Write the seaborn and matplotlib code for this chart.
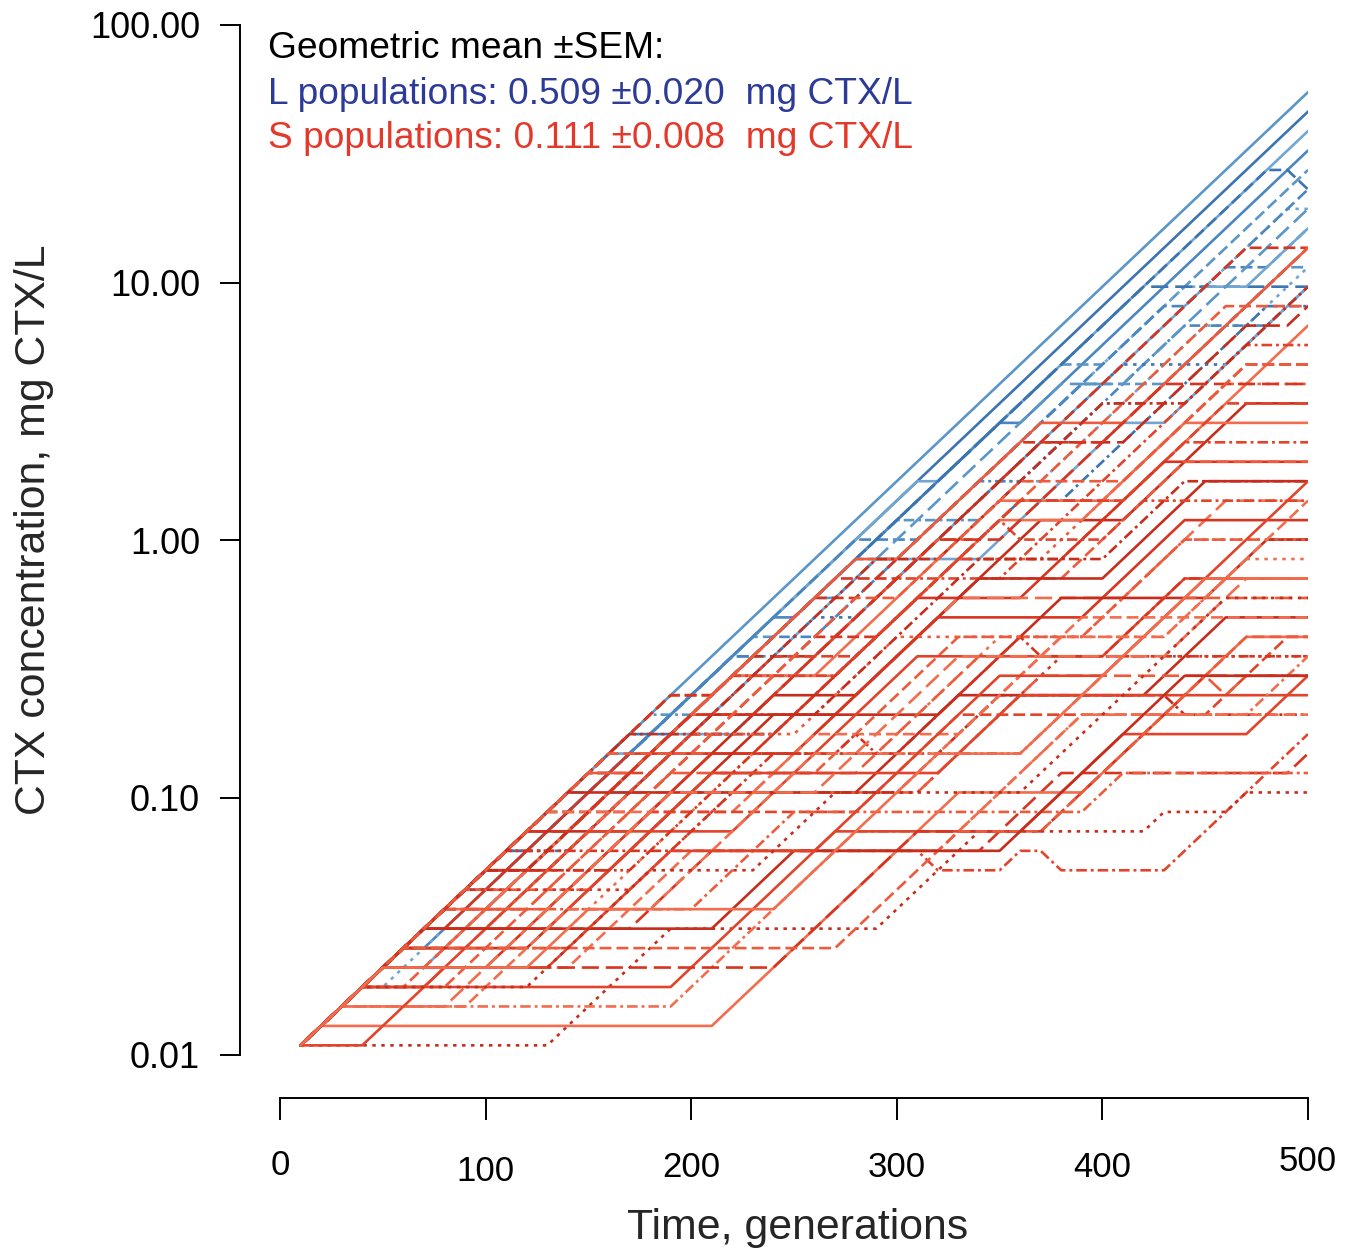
import matplotlib
matplotlib.use("Agg")
import matplotlib.pyplot as plt
import matplotlib.transforms as mtransforms
from matplotlib.ticker import NullLocator
import numpy as np
import pandas as pd
import seaborn as sns

# Dose is read at every transfer (every 10 generations)
GENERATIONS = list(range(10, 501, 10))
START_DOSE = 0.0109   # mg CTX/L at the first transfer
DOSE_STEP = 1.19      # fold change for each raise / lowering of the dose

# Dose history of each population, run-length coded per transfer:
# u = dose raised one step, h = dose held, d = dose lowered one step
L_POPULATIONS = [
    "u49",
    "u8 h1 u40",
    "u15 h1 u14 h1 u18",
    "u5 h1 u17 h1 u10 h1 u14",
    "u12 h1 u9 h1 u14 h2 u10",
    "u10 h1 u10 h1 u25 h1 d1",
    "u3 h1 u7 h1 u15 h2 u14 h1 u4 h1",
    "u13 h1 u13 h3 u8 h1 u6 h2 u2",
    "u17 h2 u10 h4 u6 h2 u8",
    "u16 h2 u23 h8",
    "u5 h2 u14 h3 u10 h2 u8 h2 u3",
    "u9 h2 u12 h2 u8 h2 u8 h4 u2",
    "u11 h2 u14 h2 u9 h4 u6 h1",
    "u6 h3 u10 h4 u12 h2 u10 h2",
    "u4 h2 u9 h1 u12 h2 u14 h2 u3",
    "u14 h1 u6 h3 u18 h1 u6",
    "u7 h2 u16 h1 u11 h3 u9",
    "u10 h3 u12 h2 u13 h5 u4",
    "u6 h2 u10 h3 u9 h3 u7 h2 u7",
]

S_POPULATIONS = [
    "u18 h2 u6 h3 u17 h3",
    "u3 h2 u14 h3 u9 h2 u12 h4",
    "u8 h2 u12 h3 u11 h4 u6 h2 u1",
    "u5 h2 u14 h4 u9 h6 u9",
    "u6 h3 u10 h2 u8 h5 u12 h3",
    "u12 h4 u9 h3 u7 h4 u7 h3",
    "u4 h2 u11 h5 u10 h4 u9 h4",
    "u9 h3 u8 h6 u10 h4 u6 h3",
    "u7 h2 u12 h5 u8 h4 u5 h6",
    "u10 h3 u6 h4 u9 h5 u6 h6",
    "u6 h1 u9 h6 u8 h5 u7 h7",
    "u3 h4 u12 h5 u9 h4 u6 h6",
    "u11 h5 u7 h4 u6 h6 u5 h5",
    "u5 h3 u8 h6 u10 h8 u5 h4",
    "u9 h2 u10 h5 u8 d1 h4 u2 h8",
    "u4 h5 u11 h4 u7 h7 u5 h6",
    "u8 h6 u6 h5 u7 h6 u5 h6",
    "u13 h6 u4 h8 u6 h7 u3 h2",
    "u6 h7 u9 h6 u6 h8 u4 h3",
    "u3 h3 u8 h7 u9 h9 u4 h6",
    "u10 h8 u5 h6 u6 d1 h3 u4 h6",
    "u7 h4 u7 h9 u6 h7 u3 h6",
    "u5 h6 u8 h8 u5 h9 u4 h4",
    "u12 h9 u4 h7 u6 h11",
    "u6 h5 u6 h10 u5 h12 u4 h1",
    "u8 h8 u5 h9 u7 h12",
    "u7 h5 u6 h12 u6 h8 d1 u1 h3",
    "u9 h6 u4 h10 u5 h8 d1 h6",
    "u4 h9 u6 h12 u7 h11",
    "u5 h8 u5 h12 d1 h3 u1 h1 d1 h5 u7",
    "u6 h10 u4 h13 u4 h11 u1",
    "u7 h12 u5 h14 u2 h9",
    "h12 u6 h10 u5 h8 u1 h3 u1 h3",
    "u1 h19 u12 h6 u8 h3",
    "u6 h6 u8 h11 u4 h14",
    "u9 h7 u6 h4 u1 d1 h7 u5 h9",
    "u7 h3 u9 h5 u5 h9 u5 h6",
    "u9 h2 u8 h6 u8 h6 u4 h6",
    "u2 h5 u11 h7 u7 h10 u4 h3",
    "u14 h3 u6 h4 u8 h5 u5 h4",
    "u18 h2 u5 h2 u8 h4 u10",
    "u14 h2 u11 h2 u7 h4 u9",
    "u16 h3 u9 h3 u8 h4 u6",
    "u2 h16 u9 h5 u6 h8 u3",
    "u3 h15 u8 h9 u5 h6 u3",
    "u4 h19 u7 h6 u8 h5",
    "u5 h21 u6 h4 u10 h3",
    "u6 h14 u4 h10 u9 h6",
    "u2 h6 u5 h4 u8 h6 u6 h5 u7",
    "h3 u4 h5 u6 h7 u9 h5 u10",
    "u11 h2 u6 h3 u9 h3 u8 h7",
    "u15 h4 u8 h2 u6 h5 u6 h3",
    "u3 h8 u6 h5 u4 h9 u10 h4",
    "u4 h7 u3 h9 u8 h4 u9 h5",
]

Y_TICKS = [0.01, 0.1, 1, 10, 100]
Y_TICK_LABELS = ["0.01", "0.10", "1.00", "10.00", "100.00"]
X_TICKS = [0, 100, 200, 300, 400, 500]
X_TICK_LABELS = ["0", "100", "200", "300", "400", "500"]

# Line appearance
LINE_DASHES = {
    "solid": "",
    "dashed": (4.5, 1.9),
    "dotted": (1.3, 2.1),
    "dashdot": (4.0, 1.5, 1.1, 1.5),
    "longdash": (6.5, 2.6),
    "dashdotdot": (3.8, 1.4, 1.0, 1.4, 1.0, 1.4),
}
L_STYLE_CYCLE = ["solid", "solid", "solid", "solid", "dashed", "dashed", "dotted",
                 "dashed", "dashdot", "longdash", "dotted", "dashdot", "dashed", "dashdot",
                 "solid", "dashed", "longdash", "dotted", "solid"]
S_STYLE_CYCLE = ["dashed", "dashed", "longdash", "solid", "dashdot", "dashed", "dotted",
                 "solid", "solid", "dashdot", "solid", "dashed", "solid", "longdash",
                 "dashdot", "solid", "dashed", "solid", "dotted", "solid", "dashdot",
                 "longdash", "solid", "dashed", "dashed", "dotted", "longdash", "dashdot",
                 "dashed", "dashdot", "longdash", "dashdot", "dotted", "solid", "solid",
                 "dashdotdot", "dotted", "dashdot", "longdash", "dashed",
                 "dashed", "solid", "dashdot", "dashdot", "solid", "longdash", "dashed",
                 "solid", "dashed", "solid", "longdash", "dashed", "dotted", "solid"]
L_COLORS = ["#5b96c9", "#3c74b1", "#72a6d2", "#4a86c1"]
S_COLORS = ["#d8341f", "#ee5a3c", "#c72d1c", "#f26c4e", "#e2442b"]


def decode(code):
    steps = []
    for token in code.split():
        kind, count = token[0], int(token[1:])
        steps += [{"u": 1, "h": 0, "d": -1}[kind]] * count
    steps = steps[: len(GENERATIONS) - 1]
    steps += [0] * (len(GENERATIONS) - 1 - len(steps))
    level = np.concatenate([[0], np.cumsum(steps)])
    return START_DOSE * DOSE_STEP ** level


def build(codes, prefix):
    frames = []
    for i, code in enumerate(codes):
        frames.append(pd.DataFrame({
            "generation": GENERATIONS,
            "dose": decode(code),
            "population": f"{prefix}{i + 1}",
        }))
    return pd.concat(frames, ignore_index=True)


df_L = build(L_POPULATIONS, "L")
df_S = build(S_POPULATIONS, "S")

sns.set_theme(style="ticks")
plt.rcParams["font.family"] = ["Liberation Sans", "DejaVu Sans"]

fig = plt.figure(figsize=(13.54, 12.52), dpi=100)
ax = fig.add_axes([280 / 1354, 1 - 1055 / 1252, 1028 / 1354, 1030 / 1252])

for df, colors, styles in ((df_L, L_COLORS, L_STYLE_CYCLE), (df_S, S_COLORS, S_STYLE_CYCLE)):
    pops = list(dict.fromkeys(df["population"]))
    palette = {p: colors[i % len(colors)] for i, p in enumerate(pops)}
    dashes = {p: LINE_DASHES[styles[i % len(styles)]] for i, p in enumerate(pops)}
    sns.lineplot(data=df, x="generation", y="dose", hue="population", style="population",
                 palette=palette, dashes=dashes, estimator=None, errorbar=None,
                 linewidth=1.9, legend=False, ax=ax)

ax.set_yscale("log")
ax.set_xlim(0, 500)
ax.set_ylim(0.01, 100)
ax.set_yticks(Y_TICKS, Y_TICK_LABELS)
ax.set_xticks(X_TICKS, X_TICK_LABELS)
ax.yaxis.set_minor_locator(NullLocator())
ax.xaxis.set_minor_locator(NullLocator())

sns.despine(ax=ax, offset={"left": 29, "bottom": 31})
for side in ("left", "bottom"):
    ax.spines[side].set_linewidth(1.4)
    ax.spines[side].set_color("black")
ax.tick_params(axis="y", length=14.5, width=1.4, pad=14, labelsize=26, colors="black")
ax.tick_params(axis="x", length=16, width=1.4, pad=21, labelsize=25, colors="black")

ax.set_xlabel("Time, generations", fontsize=30.8)
ax.set_ylabel("CTX concentration, mg CTX/L", fontsize=30.8)
ax.xaxis.set_label_coords(0.503, -0.168)
ax.yaxis.set_label_coords(-0.239, 0.51)
ax.xaxis.label.set_va("center")
ax.yaxis.label.set_va("center")

# slight vertical stagger of the time labels
for lab, dy in zip(ax.get_xticklabels(), [0, -4, -1, -1, -1, 3]):
    lab.set_transform(lab.get_transform() + mtransforms.ScaledTranslation(0, dy / 72, fig.dpi_scale_trans))

fig.text(268 / 1354, 1 - 49 / 1252, "Geometric mean \u00b1SEM:", fontsize=26.7,
         color="black", va="center", ha="left")
fig.text(268 / 1354, 1 - 94 / 1252, "L populations: 0.509 \u00b10.020  mg CTX/L",
         fontsize=26.7, color="#2d3b98", va="center", ha="left")
fig.text(268 / 1354, 1 - 138 / 1252, "S populations: 0.111 \u00b10.008  mg CTX/L",
         fontsize=26.7, color="#e3382a", va="center", ha="left")

fig.savefig("out.png", dpi=100, facecolor="white")
